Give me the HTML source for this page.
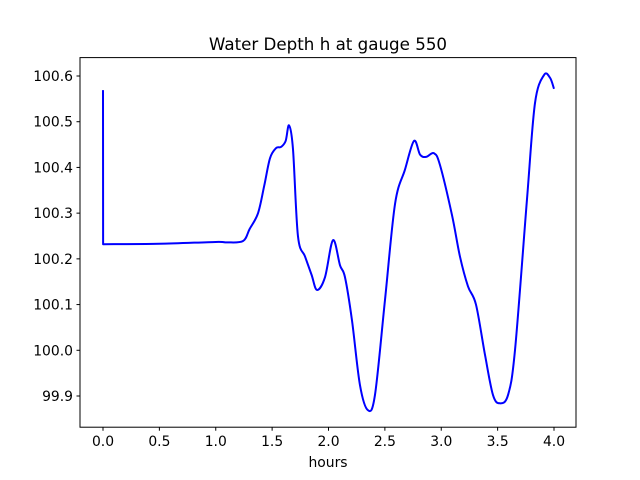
<!DOCTYPE html>
<html><head><meta charset="utf-8"><style>
body{margin:0;background:#fff;}
svg{display:block;font-family:"DejaVu Sans","Liberation Sans",sans-serif;}
</style></head><body>
<svg id="chart" width="640" height="480">
<rect width="640" height="480" fill="#fff"/>
<text x="328" y="50" font-size="16.7" text-anchor="middle">Water Depth h at gauge 550</text>
<g id="axes"></g>
<path id="series" fill="none" stroke="#0000ff" stroke-width="2" stroke-linejoin="round"/>
<rect x="80" y="57.6" width="496" height="369.6" fill="none" stroke="#000" stroke-width="1"/>
<text x="328" y="467" font-size="13.9" text-anchor="middle">hours</text>
</svg>
<script>
const times=[0,0.001,0.5,1.0,1.1,1.242,1.3,1.375,1.43,1.481,1.534,1.58,1.62,1.65,1.685,1.729,1.792,1.85,1.898,1.969,2.040,2.102,2.146,2.208,2.279,2.350,2.412,2.501,2.590,2.678,2.758,2.812,2.865,2.936,2.989,3.095,3.166,3.237,3.308,3.388,3.459,3.521,3.592,3.654,3.760,3.831,3.911,3.965,4.0];
const depths=[100.569,100.232,100.233,100.237,100.236,100.239,100.265,100.300,100.360,100.420,100.442,100.445,100.458,100.492,100.440,100.250,100.205,100.165,100.132,100.160,100.241,100.186,100.160,100.066,99.924,99.869,99.902,100.110,100.320,100.395,100.458,100.428,100.423,100.431,100.405,100.296,100.205,100.140,100.100,99.990,99.902,99.884,99.902,100.000,100.329,100.540,100.602,100.596,100.572];
const xTicks=[0,0.5,1,1.5,2,2.5,3,3.5,4];
const yTicks=[99.9,100.0,100.1,100.2,100.3,100.4,100.5,100.6];
const X=t=>103+t*112.75;
const Y=h=>76+(100.6-h)*457.14;
const ns="http://www.w3.org/2000/svg";
const ax=document.getElementById('axes');
xTicks.forEach(t=>{
  const l=document.createElementNS(ns,'line');
  
  
  l.setAttribute('x1',X(t));l.setAttribute('x2',X(t));l.setAttribute('y1',427.2);l.setAttribute('y2',430.7);l.setAttribute('stroke','#000');
  ax.appendChild(l);
  const tx=document.createElementNS(ns,'text');
  
  
  tx.setAttribute('x',X(t));tx.setAttribute('y',446);tx.setAttribute('font-size','13.9');tx.setAttribute('text-anchor','middle');
  tx.textContent=t.toFixed(1);ax.appendChild(tx);
});
yTicks.forEach(h=>{
  const l=document.createElementNS(ns,'line');
  
  
  l.setAttribute('x1',76.5);l.setAttribute('x2',80);l.setAttribute('y1',Y(h));l.setAttribute('y2',Y(h));l.setAttribute('stroke','#000');
  ax.appendChild(l);
  const tx=document.createElementNS(ns,'text');
  
  
  tx.setAttribute('x',73);tx.setAttribute('y',Y(h)+5);tx.setAttribute('font-size','13.9');tx.setAttribute('text-anchor','end');
  tx.textContent=h.toFixed(1);ax.appendChild(tx);
});
const P=times.map((t,i)=>[X(t),Y(depths[i])]);
let d='M'+P[0][0]+','+P[0][1]+' L'+P[1][0]+','+P[1][1];
for(let i=1;i<P.length-1;i++){
  const p0=P[i-1===0?1:i-1],p1=P[i],p2=P[i+1],p3=P[Math.min(i+2,P.length-1)];
  const c1=[p1[0]+(p2[0]-p0[0])/6,p1[1]+(p2[1]-p0[1])/6];
  const c2=[p2[0]-(p3[0]-p1[0])/6,p2[1]-(p3[1]-p1[1])/6];
  d+=' C'+c1[0]+','+c1[1]+' '+c2[0]+','+c2[1]+' '+p2[0]+','+p2[1];
}
document.getElementById('series').setAttribute('d',d);
</script>
</body></html>
